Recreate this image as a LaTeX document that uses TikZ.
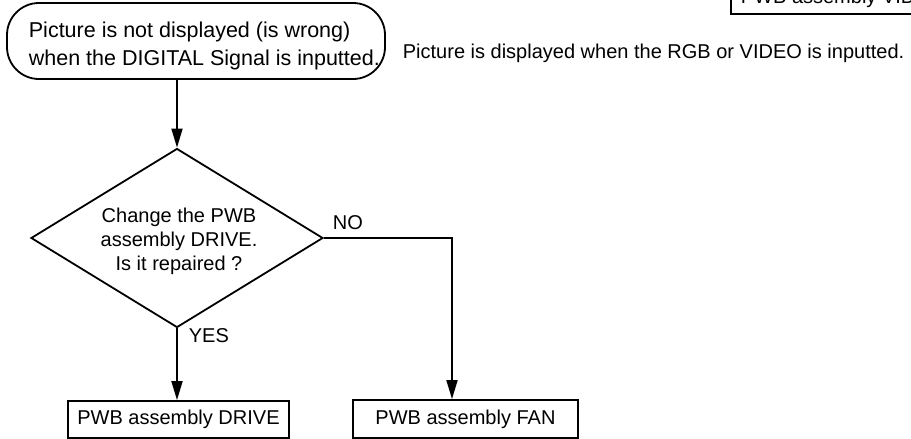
\documentclass[tikz,border=0pt]{standalone}
\usepackage{fontspec}
\setmainfont{Liberation Sans}
\usetikzlibrary{shapes.geometric,arrows.meta}
\begin{document}
\begin{tikzpicture}[x=1pt,y=-1pt,
  line width=1.8pt,
  txt/.style={font=\fontsize{20}{24}\selectfont, inner sep=0pt},
  boxnode/.style={draw, rectangle, inner sep=0pt, font=\fontsize{20}{24}\selectfont},
  arr/.style={-{Triangle[length=19pt,width=11pt]}},
]
\useasboundingbox (0,0) rectangle (911,439);
\clip (0,0) rectangle (911,439);
% start terminal
\node[draw, rounded corners=32pt, minimum width=378pt, minimum height=76pt, inner sep=0pt] (start) at (196,41) {};
\node[txt, font=\fontsize{21.5}{28}\selectfont, align=left, anchor=west] (starttxt) at (28,46) {Picture is not displayed (is wrong)\\when the DIGITAL Signal is inputted.};
% right note
\node[txt, anchor=west] (note) at (402,53) {Picture is displayed when the RGB or VIDEO is inputted.};
% top-right partial box
\node[draw, rectangle, inner sep=0pt, anchor=south west, minimum width=240pt, minimum height=40pt] (video) at (730,15) {};
\node[txt, anchor=base west] (videotxt) at (740,3.5) {PWB assembly VIDEO};
% decision
\node[draw, diamond, inner sep=0pt, minimum width=292pt, minimum height=179pt] (dec) at (177,238) {};
\node[txt, align=center] (dectxt) at (179,241.5) {Change the PWB\\assembly DRIVE.\\Is it repaired ?};
% result boxes
\node[boxnode, minimum width=221pt, minimum height=37pt] (drive) at (178.5,419.5) {PWB assembly DRIVE};
\node[boxnode, minimum width=225pt, minimum height=38pt] (fan) at (465.5,419) {PWB assembly FAN};
\coordinate (corner) at (452,238);
% connectors
\draw[arr] (dec.north |- start.south) -- (dec.north);
\draw[arr] (dec.south) -- (drive.north -| dec.south);
\draw[arr] (dec.east) -- (corner) -- (corner |- fan.north);
% labels
\node[txt, anchor=west] (yes) at (188,336) {YES};
\node[txt, anchor=west] (no) at (332,223) {NO};
\end{tikzpicture}
\end{document}
